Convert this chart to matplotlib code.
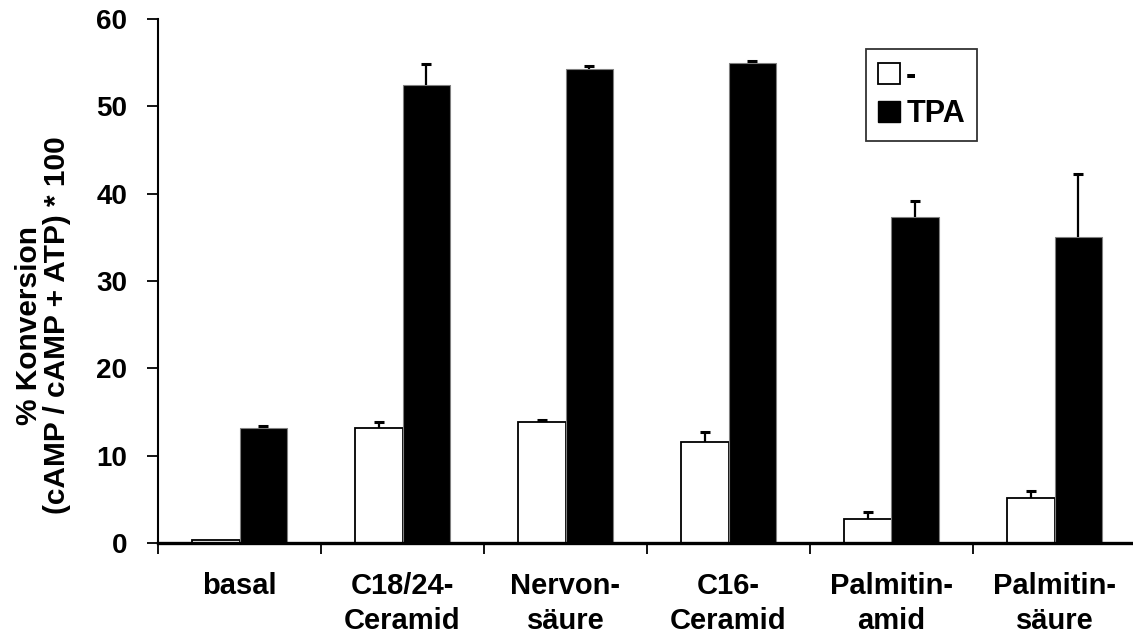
"""Bar chart: cAMP conversion with and without TPA."""

import matplotlib

matplotlib.use("Agg")
import matplotlib.pyplot as plt
from matplotlib.patches import Patch
import numpy as np

categories = ["basal", "C18/24-\nCeramid", "Nervon-\nsäure", "C16-\nCeramid", "Palmitin-\namid", "Palmitin-\nsäure"]
control_values = [0.4, 13.2, 13.9, 11.6, 2.7, 5.2]
control_errors = [0.0, 0.6, 0.2, 1.1, 0.9, 0.7]
tpa_values = [13.2, 52.4, 54.3, 55.0, 37.3, 35.0]
tpa_errors = [0.2, 2.4, 0.3, 0.2, 1.9, 7.3]
legend_labels = ["-", "TPA"]

plt.rcParams["font.family"] = ["Liberation Sans", "DejaVu Sans"]
plt.rcParams["font.weight"] = "bold"

fig = plt.figure(figsize=(11.33, 6.37), dpi=100)
ax = fig.add_axes([158 / 1133, 1 - 543 / 637, 1 - 158 / 1133, (543 - 19) / 637])

x = np.arange(len(categories))
width = 0.29


def upper_errorbars(xpos, values, errors):
    xpos = np.asarray(xpos)
    values = np.asarray(values)
    errors = np.asarray(errors)
    keep = errors > 0
    _, caps, _ = ax.errorbar(xpos[keep], values[keep], yerr=[np.zeros(keep.sum()), errors[keep]],
                             fmt="none", ecolor="black", elinewidth=1.6, capsize=3.8,
                             capthick=2.2, zorder=3)
    caps[0].set_visible(False)


ax.bar(x - width / 2, control_values, width, color="white", edgecolor="black", linewidth=1.3, zorder=2)
ax.bar(x + width / 2, tpa_values, width, color="black", edgecolor="#808080", linewidth=0.8, zorder=2)
upper_errorbars(x - width / 2, control_values, control_errors)
upper_errorbars(x + width / 2, tpa_values, tpa_errors)

ax.set_xlim(-0.5, -0.5 + (1133 - 158) / 163)
ax.set_ylim(0, 60)
ax.set_yticks(range(0, 61, 10))
ax.tick_params(axis="y", direction="out", length=8, width=1.3, labelsize=20, pad=14)

ax.set_xticks(x)
ax.set_xticklabels(categories, fontsize=21, fontweight="bold", linespacing=1.32)
ax.tick_params(axis="x", which="major", length=0, pad=21)
ax.set_xticks(np.arange(len(categories)) - 0.5, minor=True)
ax.tick_params(axis="x", which="minor", direction="out", length=8, width=1.3)

for side in ("top", "right"):
    ax.spines[side].set_visible(False)
ax.spines["left"].set_linewidth(1.5)
ax.spines["bottom"].set_linewidth(2.4)

ax.set_ylabel("% Konversion\n(cAMP / cAMP + ATP) * 100", fontsize=21.5, fontweight="bold",
              linespacing=1.0)
ax.yaxis.set_label_coords(-0.089, 0.416)

handles = [Patch(facecolor="white", edgecolor="black", linewidth=1.3),
           Patch(facecolor="black", edgecolor="black")]
leg = ax.legend(handles, legend_labels, loc="upper left", bbox_to_anchor=(0.726, 0.943),
                borderaxespad=0, fontsize=22, frameon=True, fancybox=False, edgecolor="black",
                handlelength=0.72, handleheight=0.68, handletextpad=0.2, borderpad=0.4,
                labelspacing=0.25)
leg.get_frame().set_linewidth(1.3)
for text in leg.get_texts():
    text.set_fontweight("bold")

fig.savefig("out.png", dpi=100)
